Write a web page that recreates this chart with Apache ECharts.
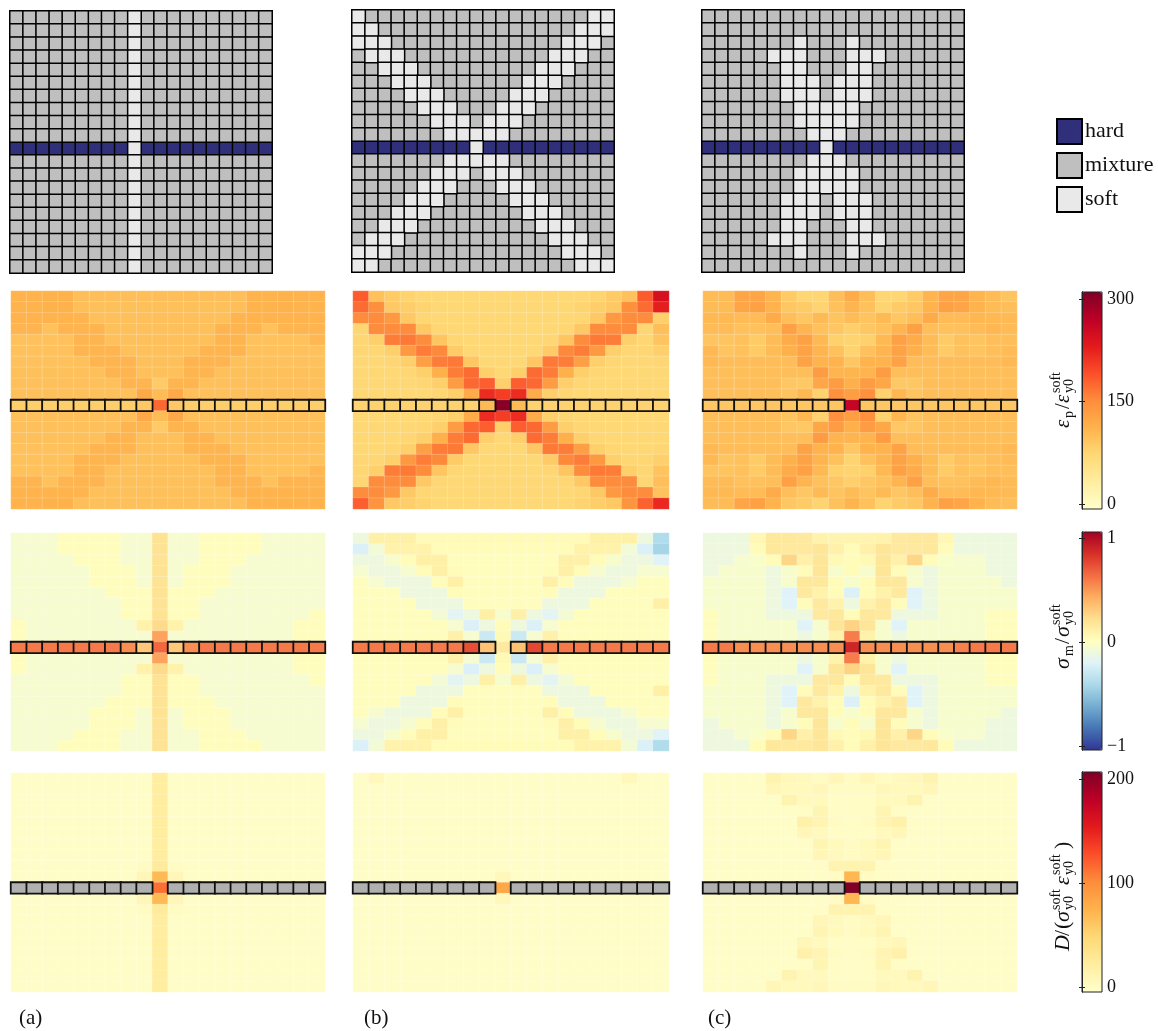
<!DOCTYPE html>
<html>
<head>
<meta charset="utf-8">
<script src="https://cdn.jsdelivr.net/npm/echarts@6/dist/echarts.min.js"></script>
<style>html,body{margin:0;background:#fff}#main{width:1158px;height:1031px}</style>
</head>
<body>
<div id="main"></div>
<script>
const columns = Array.from({ length: 20 }, (_, i) => i);
const rows = columns.slice();

// 0 mixture, 1 soft, 2 hard
const layoutA = ['00000000010000000000','00000000010000000000','00000000010000000000','00000000010000000000','00000000010000000000','00000000010000000000','00000000010000000000','00000000010000000000','00000000010000000000','00000000010000000000','22222222212222222222','00000000010000000000','00000000010000000000','00000000010000000000','00000000010000000000','00000000010000000000','00000000010000000000','00000000010000000000','00000000010000000000','00000000010000000000'];
const layoutB = ['10000000000000000011','11000000000000000111','11100000000000001110','01110000000000011100','00111000000000111000','00011100000001110000','00001110000011100000','00000111000111000000','00000011101110000000','00000001111100000000','22222222212222222222','00000001111100000000','00000011101110000000','00000111000111000000','00001110000011100000','00011100000001110000','00111000000000111000','01110000000000011100','11100000000000001110','11000000000000000111'];
const layoutC = ['00000000000000000000','00000000000000000000','00000001000100000000','00000111000111000000','00000011000110000000','00000011101110000000','00000011101110000000','00000001111100000000','00000001111100000000','00000000111000000000','22222222212222222222','00000000111000000000','00000001111100000000','00000001111100000000','00000011101110000000','00000011101110000000','00000011000110000000','00000111000111000000','00000001000100000000','00000000000000000000'];

const strainA = [
[112,112,113,113,100,100,100,100,100,100,100,100,100,100,100,112,112,113,112,112],
[112,112,113,113,100,99,99,99,99,99,99,99,99,99,100,112,112,113,112,112],
[112,112,112,112,110,99,99,99,99,99,99,99,99,99,110,112,112,112,112,112],
[110,110,98,110,110,110,99,99,99,99,99,99,99,110,110,110,98,110,110,110],
[98,98,98,98,110,110,99,99,99,99,99,99,99,110,110,98,98,98,98,108],
[98,98,98,98,110,110,110,99,99,99,99,99,110,110,110,98,98,98,98,98],
[98,98,98,98,99,110,110,110,99,99,99,110,110,110,99,98,98,98,98,98],
[99,99,99,99,99,99,110,110,99,99,99,110,110,99,99,99,99,99,99,99],
[99,99,99,99,99,99,99,110,110,88,110,110,99,99,99,99,99,99,99,99],
[99,99,99,99,99,99,99,99,122,103,122,99,99,99,99,99,99,99,99,99],
[86,86,86,86,86,86,86,86,90,172,90,86,86,86,86,86,86,86,86,86],
[99,99,99,99,99,99,99,99,122,103,122,99,99,99,99,99,99,99,99,99],
[99,99,99,99,99,99,99,110,110,88,110,110,99,99,99,99,99,99,99,99],
[99,99,99,99,99,99,110,110,99,99,99,110,110,99,99,99,99,99,99,99],
[98,98,98,98,99,110,110,110,99,99,99,110,110,110,99,98,98,98,98,98],
[98,98,98,98,110,110,110,99,99,99,99,99,110,110,110,98,98,98,98,98],
[98,98,98,98,110,110,99,99,99,99,99,99,99,110,110,98,98,98,98,108],
[110,110,98,110,110,110,99,99,99,99,99,99,99,110,110,110,98,110,110,110],
[112,112,112,112,110,99,99,99,99,99,99,99,99,99,110,112,112,112,112,112],
[112,112,113,113,100,99,99,99,99,99,99,99,99,99,100,112,112,113,112,112]];
const strainB = [
[180,98,88,80,76,76,76,76,76,76,76,76,76,76,76,80,88,98,180,238],
[170,148,90,86,80,76,76,76,76,76,76,76,76,76,80,86,90,148,170,222],
[150,150,138,90,78,76,76,76,76,76,76,76,76,76,78,90,138,150,150,84],
[78,150,150,150,90,78,76,76,76,76,76,76,76,78,90,150,150,150,78,100],
[78,84,160,162,150,94,78,76,76,76,76,76,78,94,150,162,160,84,78,95],
[78,78,84,138,160,152,88,76,76,76,76,76,88,152,160,138,84,78,78,85],
[76,76,78,84,132,160,162,92,76,76,76,92,162,160,132,84,78,76,76,78],
[76,76,76,78,84,115,160,170,85,76,85,170,160,115,84,78,76,76,76,76],
[76,76,76,76,78,84,135,172,178,84,178,172,135,84,78,76,76,76,76,76],
[76,76,76,76,76,78,84,120,212,200,212,120,84,78,76,76,76,76,76,76],
[82,82,82,82,82,82,82,82,105,295,105,82,82,82,82,82,82,82,82,82],
[76,76,76,76,76,78,84,120,212,200,212,120,84,78,76,76,76,76,76,76],
[76,76,76,76,78,84,135,172,178,84,178,172,135,84,78,76,76,76,76,76],
[76,76,76,78,84,115,160,170,85,76,85,170,160,115,84,78,76,76,76,76],
[76,76,78,84,132,160,162,92,76,76,76,92,162,160,132,84,78,76,76,78],
[78,78,84,138,160,152,88,76,76,76,76,76,88,152,160,138,84,78,78,85],
[78,84,160,162,150,94,78,76,76,76,76,76,78,94,150,162,160,84,78,95],
[78,150,150,150,90,78,76,76,76,76,76,76,76,78,90,150,150,150,78,100],
[150,150,138,90,78,76,76,76,76,76,76,76,76,76,78,90,138,150,150,96],
[178,142,90,86,80,76,76,76,76,76,76,76,76,76,80,86,90,142,176,215]];
const strainC = [
[103,103,125,125,110,88,78,78,100,120,100,78,78,88,110,125,125,110,103,95],
[103,103,125,130,112,92,88,80,98,110,98,80,88,92,112,130,125,112,103,100],
[106,106,104,104,120,100,92,105,95,103,95,105,92,100,120,104,104,108,106,105],
[104,104,98,98,100,130,110,98,92,85,92,98,110,130,100,98,98,104,108,104],
[95,95,98,88,103,120,130,106,83,80,83,106,130,120,103,88,98,95,100,100],
[106,95,98,88,103,115,128,110,98,80,98,110,128,115,103,88,98,95,100,104],
[106,102,102,102,102,102,128,112,112,92,112,112,128,102,102,102,102,102,102,106],
[100,100,100,100,100,100,100,135,110,110,110,135,100,100,100,100,100,100,100,100],
[100,100,100,100,100,92,90,124,135,115,135,124,90,92,100,100,100,100,100,100],
[100,100,100,100,100,95,108,82,146,133,146,82,108,95,100,100,100,100,100,100],
[92,92,92,92,92,92,92,92,94,255,94,92,92,92,92,92,92,92,92,92],
[100,100,100,100,100,95,108,82,146,133,146,82,108,95,100,100,100,100,100,100],
[100,100,100,100,100,92,90,124,135,115,135,124,90,92,100,100,100,100,100,100],
[100,100,100,100,100,100,100,135,110,110,110,135,100,100,100,100,100,100,100,100],
[106,102,102,102,102,102,128,112,112,92,112,112,128,102,102,102,102,102,102,106],
[106,95,98,88,103,115,128,110,98,80,98,110,128,115,103,88,98,95,100,104],
[95,95,98,88,103,120,130,106,83,80,83,106,130,120,103,88,98,95,100,100],
[104,104,98,98,100,130,110,98,92,85,92,98,110,130,100,98,98,104,108,104],
[106,106,104,104,120,100,92,105,95,103,95,105,92,100,120,104,104,108,106,105],
[103,103,125,130,112,92,88,80,98,110,98,80,88,92,112,130,125,112,103,100]];

// hydrostatic stress, in hundredths
const stressA = [
[-6,-6,-6,1,1,1,1,-6,-6,18,-6,-6,1,1,1,1,-6,-6,-6,-6],
[-6,-6,-6,1,1,1,1,-6,-6,18,-6,-6,1,1,1,1,-6,-6,-6,-6],
[-6,-6,-6,-6,1,1,1,-6,-6,18,-6,-6,1,1,1,-6,-6,-6,-6,-6],
[-6,-6,-6,-6,-6,1,1,1,-6,18,-6,1,1,1,-6,-6,-6,-6,-6,-6],
[-6,-6,-6,-6,-6,1,1,1,-6,18,-6,1,1,1,-6,-6,-6,-6,-6,-6],
[-6,-6,-6,-6,-6,-6,1,1,1,18,1,1,1,-6,-6,-6,-6,-6,-6,-6],
[-6,-6,-6,-6,-6,-6,-6,1,1,18,1,1,-6,-6,-6,-6,-6,-6,-6,-6],
[-6,-6,-6,-6,-6,-6,-6,1,1,18,1,1,-6,-6,-6,-6,-6,-6,-6,1],
[1,-6,-6,-6,-6,-6,-6,-6,8,22,8,-6,-6,-6,-6,-6,-6,-6,1,1],
[1,-6,-6,-6,-6,-6,-6,-6,-6,43,-6,-6,-6,-6,-6,-6,-6,-6,1,1],
[56,56,56,56,56,56,56,50,30,62,30,50,56,56,56,56,56,56,56,56],
[1,-6,-6,-6,-6,-6,-6,-6,-6,43,-6,-6,-6,-6,-6,-6,-6,-6,1,1],
[1,-6,-6,-6,-6,-6,-6,-6,8,22,8,-6,-6,-6,-6,-6,-6,-6,1,1],
[-6,-6,-6,-6,-6,-6,-6,1,1,18,1,1,-6,-6,-6,-6,-6,-6,-6,1],
[-6,-6,-6,-6,-6,-6,-6,1,1,18,1,1,-6,-6,-6,-6,-6,-6,-6,-6],
[-6,-6,-6,-6,-6,-6,1,1,1,18,1,1,1,-6,-6,-6,-6,-6,-6,-6],
[-6,-6,-6,-6,-6,1,1,1,-6,18,-6,1,1,1,-6,-6,-6,-6,-6,-6],
[-6,-6,-6,-6,-6,1,1,1,-6,18,-6,1,1,1,-6,-6,-6,-6,-6,-6],
[-6,-6,-6,-6,1,1,1,-6,-6,18,-6,-6,1,1,1,-6,-6,-6,-6,-6],
[-6,-6,-6,1,1,1,1,-6,-6,18,-6,-6,1,1,1,1,-6,-6,-6,-6]];
const stressB = [
[-11,10,10,10,3,3,3,3,3,3,3,3,3,3,3,10,10,10,-11,-38],
[-22,-8,8,8,8,2,2,2,2,2,2,2,2,2,8,8,8,-8,-22,-42],
[-11,-11,-5,2,10,10,1,1,1,1,1,1,1,10,10,2,-5,-11,-11,-20],
[-6,-11,-11,-6,2,10,2,1,1,1,1,1,2,10,2,-6,-11,-11,-6,-6],
[1,-6,-11,-11,-11,2,10,1,1,1,1,1,10,2,-11,-11,-11,-6,1,1],
[1,1,1,-11,-11,-11,2,1,1,1,1,1,2,-11,-11,-11,1,1,1,1],
[1,1,1,1,-11,-11,-11,1,1,1,1,1,-11,-11,-11,1,1,1,1,10],
[1,1,1,1,1,-8,-18,-11,10,-5,10,-11,-18,-8,1,1,1,1,1,1],
[1,1,1,1,1,1,-6,-22,-11,2,-11,-22,-6,1,1,1,1,1,1,1],
[1,1,1,1,1,1,9,-6,-28,4,-28,-6,9,1,1,1,1,1,1,1],
[56,56,56,56,56,56,56,70,32,14,32,72,56,56,56,56,56,56,56,56],
[1,1,1,1,1,1,9,-6,-28,4,-28,-6,9,1,1,1,1,1,1,1],
[1,1,1,1,1,1,-6,-22,-11,2,-11,-22,-6,1,1,1,1,1,1,1],
[1,1,1,1,1,-8,-18,-11,10,-5,10,-11,-18,-8,1,1,1,1,1,1],
[1,1,1,1,-11,-11,-11,1,1,1,1,1,-11,-11,-11,1,1,1,1,10],
[1,1,1,-11,-11,-11,2,1,1,1,1,1,2,-11,-11,-11,1,1,1,1],
[1,-6,-11,-11,-11,2,10,1,1,1,1,1,10,2,-11,-11,-11,-6,1,1],
[-6,-11,-11,-6,2,10,2,1,1,1,1,1,2,10,2,-6,-11,-11,-6,-6],
[-11,-11,-5,2,10,10,1,1,1,1,1,1,1,10,10,2,-5,-11,-11,-20],
[-22,-8,8,8,8,2,2,2,2,2,2,2,2,2,8,8,8,-8,-22,-38]];
const stressC = [
[-11,-11,-11,5,15,15,14,8,7,7,7,8,14,15,15,5,-11,-11,-11,-11],
[-11,-11,-11,2,15,14,14,16,9,2,9,16,14,14,15,2,-11,-11,-11,-11],
[-11,-11,-6,-4,2,24,9,16,4,2,4,16,9,24,2,-4,-6,-6,-11,-11],
[-11,-5,-5,-5,-11,-5,2,16,-5,2,-5,16,2,-5,-11,-5,-5,-5,-11,-11],
[-5,-5,-5,-5,-11,-5,15,15,2,-5,2,15,15,-5,-11,-5,-5,-5,-5,-11],
[-5,-5,-5,-5,-11,-20,14,8,2,-22,2,8,14,-20,-11,-5,-5,-5,-5,-5],
[-5,-5,-5,-5,-11,-20,2,14,8,-11,8,14,2,-20,-11,-5,-5,-5,-5,-5],
[1,-5,-5,-5,-11,-11,-11,14,15,2,15,14,-11,-11,-11,-5,-5,-5,1,1],
[1,-5,-5,-5,-5,-5,-20,-5,16,25,16,-5,-20,-5,-5,-5,-5,-5,1,1],
[1,-5,-5,-5,-5,-5,-11,-5,8,55,8,-5,-11,-5,-5,-5,-5,-5,1,1],
[56,56,50,50,50,50,50,50,50,84,50,50,50,50,50,50,54,56,56,56],
[1,-5,-5,-5,-5,-5,-11,-5,8,55,8,-5,-11,-5,-5,-5,-5,-5,1,1],
[1,-5,-5,-5,-5,-5,-20,-5,16,25,16,-5,-20,-5,-5,-5,-5,-5,1,1],
[1,-5,-5,-5,-11,-11,-11,14,15,2,15,14,-11,-11,-11,-5,-5,-5,1,1],
[-5,-5,-5,-5,-11,-20,2,14,8,-11,8,14,2,-20,-11,-5,-5,-5,-5,-5],
[-5,-5,-5,-5,-11,-20,14,8,2,-22,2,8,14,-20,-11,-5,-5,-5,-5,-5],
[-5,-5,-5,-5,-11,-5,15,15,2,-5,2,15,15,-5,-11,-5,-5,-5,-5,-11],
[-11,-5,-5,-5,-11,-5,2,16,-5,2,-5,16,2,-5,-11,-5,-5,-5,-11,-11],
[-11,-11,-6,-4,2,24,9,16,4,2,4,16,9,24,2,-4,-6,-6,-11,-11],
[-11,-11,-11,2,15,14,14,16,9,2,9,16,14,14,15,2,-11,-11,-11,-11]];

const damageA = [
[3,3,3,3,3,3,3,3,3,25,3,3,3,3,3,3,3,3,3,3],
[3,3,3,3,3,3,3,3,3,25,3,3,3,3,3,3,3,3,3,3],
[3,3,3,3,3,3,3,3,3,25,3,3,3,3,3,3,3,3,3,3],
[3,3,3,3,3,3,3,3,3,25,3,3,3,3,3,3,3,3,3,3],
[3,3,3,3,3,3,3,3,3,25,3,3,3,3,3,3,3,3,3,3],
[3,3,3,3,3,3,3,3,3,25,3,3,3,3,3,3,3,3,3,3],
[3,3,3,3,3,3,3,3,3,25,3,3,3,3,3,3,3,3,3,3],
[3,3,3,3,3,3,3,3,3,25,3,3,3,3,3,3,3,3,3,3],
[3,3,3,3,3,3,3,3,5,28,5,3,3,3,3,3,3,3,3,3],
[3,3,3,3,3,3,3,3,12,70,12,3,3,3,3,3,3,3,3,3],
[null,null,null,null,null,null,null,null,null,112,null,null,null,null,null,null,null,null,null,null],
[3,3,3,3,3,3,3,3,12,70,12,3,3,3,3,3,3,3,3,3],
[3,3,3,3,3,3,3,3,5,28,5,3,3,3,3,3,3,3,3,3],
[3,3,3,3,3,3,3,3,3,25,3,3,3,3,3,3,3,3,3,3],
[3,3,3,3,3,3,3,3,3,25,3,3,3,3,3,3,3,3,3,3],
[3,3,3,3,3,3,3,3,3,25,3,3,3,3,3,3,3,3,3,3],
[3,3,3,3,3,3,3,3,3,25,3,3,3,3,3,3,3,3,3,3],
[3,3,3,3,3,3,3,3,3,25,3,3,3,3,3,3,3,3,3,3],
[3,3,3,3,3,3,3,3,3,25,3,3,3,3,3,3,3,3,3,3],
[3,3,3,3,3,3,3,3,3,25,3,3,3,3,3,3,3,3,3,3]];
const damageB = [
[3,10,3,3,3,3,3,3,3,3,3,3,3,3,3,3,3,10,3,3],
[3,3,3,3,3,3,3,3,3,3,3,3,3,3,3,3,3,3,3,3],
[3,3,3,3,3,3,3,3,3,3,3,3,3,3,3,3,3,3,3,3],
[3,3,3,3,3,3,3,3,3,3,3,3,3,3,3,3,3,3,3,3],
[3,3,3,3,3,3,3,3,3,3,3,3,3,3,3,3,3,3,3,3],
[3,3,3,3,3,3,3,3,3,3,3,3,3,3,3,3,3,3,3,3],
[3,3,3,3,3,3,3,3,3,3,3,3,3,3,3,3,3,3,3,3],
[3,3,3,3,3,3,3,3,3,3,3,3,3,3,3,3,3,3,3,3],
[3,3,3,3,3,3,3,3,3,3,3,3,3,3,3,3,3,3,3,3],
[3,3,3,3,3,3,3,3,3,10,3,3,3,3,3,3,3,3,3,3],
[null,null,null,null,null,null,null,null,null,82,null,null,null,null,null,null,null,null,null,null],
[3,3,3,3,3,3,3,3,3,10,3,3,3,3,3,3,3,3,3,3],
[3,3,3,3,3,3,3,3,3,3,3,3,3,3,3,3,3,3,3,3],
[3,3,3,3,3,3,3,3,3,3,3,3,3,3,3,3,3,3,3,3],
[3,3,3,3,3,3,3,3,3,3,3,3,3,3,3,3,3,3,3,3],
[3,3,3,3,3,3,3,3,3,3,3,3,3,3,3,3,3,3,3,3],
[3,3,3,3,3,3,3,3,3,3,3,3,3,3,3,3,3,3,3,3],
[3,3,3,3,3,3,3,3,3,3,3,3,3,3,3,3,3,3,3,3],
[3,3,3,3,3,3,3,3,3,3,3,3,3,3,3,3,3,3,3,3],
[3,3,3,3,3,3,3,3,3,3,3,3,3,3,3,3,3,3,3,3]];
const damageC = [
[3,3,3,3,16,10,8,6,12,6,12,6,8,10,16,3,3,3,3,3],
[3,3,3,3,12,9,9,11,5,5,5,11,9,9,12,3,3,3,3,3],
[3,3,3,3,3,16,8,9,4,4,4,9,8,16,3,3,3,3,3,3],
[3,3,3,3,3,3,4,14,4,4,4,14,4,3,3,3,3,3,3,3],
[3,3,3,3,3,3,20,15,5,4,5,15,20,3,3,3,3,3,3,3],
[3,3,3,3,3,3,12,8,4,4,4,8,12,3,3,3,3,3,3,3],
[3,3,3,3,3,3,3,14,9,5,9,14,3,3,3,3,3,3,3,3],
[3,3,3,3,3,3,3,12,8,5,8,12,3,3,3,3,3,3,3,3],
[3,3,3,3,3,3,3,4,16,17,16,4,3,3,3,3,3,3,3,3],
[3,3,3,3,3,3,3,3,5,72,5,3,3,3,3,3,3,3,3,3],
[null,null,null,null,null,null,null,null,null,200,null,null,null,null,null,null,null,null,null,null],
[3,3,3,3,3,3,3,3,5,72,5,3,3,3,3,3,3,3,3,3],
[3,3,3,3,3,3,3,4,16,17,16,4,3,3,3,3,3,3,3,3],
[3,3,3,3,3,3,3,12,8,5,8,12,3,3,3,3,3,3,3,3],
[3,3,3,3,3,3,3,14,9,5,9,14,3,3,3,3,3,3,3,3],
[3,3,3,3,3,3,12,8,4,4,4,8,12,3,3,3,3,3,3,3],
[3,3,3,3,3,3,20,15,5,4,5,15,20,3,3,3,3,3,3,3],
[3,3,3,3,3,3,4,14,4,4,4,14,4,3,3,3,3,3,3,3],
[3,3,3,3,3,16,8,9,4,4,4,9,8,16,3,3,3,3,3,3],
[3,3,3,3,12,9,9,11,5,5,5,11,9,9,12,3,3,3,3,3]];

const phaseNames = ['mixture', 'soft', 'hard'];
const phaseColors = ['#bfbfbf', '#e9e9e9', '#2f2f7a'];
const panelLabels = ['(a)', '(b)', '(c)'];
const strainTicks = [0, 150, 300];
const stressTicks = [-100, 0, 100];
const damageTicks = [0, 100, 200];

const ylorrd = ['#ffffcc', '#ffeda0', '#fed976', '#feb24c', '#fd8d3c', '#fc4e2a', '#e31a1c', '#bd0026', '#800026'];
const rdylbu = ['#313695', '#4575b4', '#74add1', '#abd9e9', '#e0f3f8', '#ffffbf', '#fee090', '#fdae61', '#f46d43', '#d73027', '#a50026'];

const serif = '"Liberation Serif", serif';
const grid = [], xAxis = [], yAxis = [], series = [];

function addGrid(rect, extra) {
  grid.push(Object.assign({}, rect, extra));
  return grid.length - 1;
}

function addCellAxes(i) {
  xAxis.push({ gridIndex: i, type: 'category', data: columns, show: false });
  yAxis.push({ gridIndex: i, type: 'category', data: rows, inverse: true, show: false });
  return [xAxis.length - 1, yAxis.length - 1];
}

// top row: material layouts
[[10, 11, layoutA], [352, 10, layoutB], [702, 10, layoutC]].forEach(([left, top, layout]) => {
  const [xi, yi] = addCellAxes(addGrid({ left, top, width: 262, height: 262 }));
  [2, 0, 1].forEach(phase => {
    const cells = [];
    layout.forEach((line, r) => {
      for (let c = 0; c < line.length; c++) {
        if (+line[c] === phase) cells.push([c, r, phase]);
      }
    });
    series.push({
      type: 'heatmap',
      name: phaseNames[phase],
      xAxisIndex: xi,
      yAxisIndex: yi,
      data: cells,
      itemStyle: { color: phaseColors[phase], borderColor: '#000', borderWidth: 1.5 }
    });
  });
});

// field panels
const panelX = [[11, 314], [353, 316], [703, 314]];
const fieldRows = [
  { top: 291, height: 218, fields: [strainA, strainB, strainC], grey: false },
  { top: 533, height: 218, fields: [stressA, stressB, stressC], grey: false },
  { top: 773, height: 219, fields: [damageA, damageB, damageC], grey: true }
];
const layouts = [layoutA, layoutB, layoutC];
const mapSeries = [[], [], []];

fieldRows.forEach((row, rowIndex) => {
  row.fields.forEach((field, p) => {
    const [xi, yi] = addCellAxes(addGrid({ left: panelX[p][0], top: row.top, width: panelX[p][1], height: row.height }));
    const open = [], hard = [];
    field.forEach((line, r) => {
      line.forEach((v, c) => {
        if (layouts[p][r][c] === '2') hard.push([c, r, row.grey ? 1 : v]);
        else open.push([c, r, v]);
      });
    });
    mapSeries[rowIndex].push(series.length);
    series.push({
      type: 'heatmap',
      xAxisIndex: xi,
      yAxisIndex: yi,
      data: open,
      itemStyle: { borderColor: 'rgba(255,255,255,0.18)', borderWidth: 1 }
    });
    if (!row.grey) mapSeries[rowIndex].push(series.length);
    series.push({
      type: 'heatmap',
      xAxisIndex: xi,
      yAxisIndex: yi,
      z: 3,
      data: hard,
      itemStyle: { color: '#b0b0b0', borderColor: '#111', borderWidth: 1.8 }
    });
  });
});

// colour bars: the ramp is the visualMap, the scale is an axis laid over it
const barLeft = 1082, barWidth = 20;
const bars = [
  { top: 292, height: 217, min: -7, max: 310, ticks: strainTicks, vmin: 0, vmax: 300, colors: ylorrd },
  { top: 532, height: 218, min: -104, max: 106, ticks: stressTicks, vmin: -100, vmax: 100, colors: rdylbu },
  { top: 772, height: 220, min: -5, max: 207, ticks: damageTicks, vmin: 0, vmax: 200, colors: ylorrd }
];

bars.forEach((bar, b) => {
  const i = addGrid({ left: barLeft, top: bar.top, width: barWidth, height: bar.height },
    { show: true, borderColor: '#222', borderWidth: 1, backgroundColor: 'transparent', z: 10 });
  xAxis.push({ gridIndex: i, type: 'value', show: false, min: 0, max: 1 });
  const labelFor = b === 1
    ? v => (v === -100 ? '\u22121' : v === 100 ? '1' : '0')
    : v => String(v);
  yAxis.push({
    gridIndex: i, type: 'value', position: 'right', min: bar.min, max: bar.max, z: 10,
    splitLine: { show: false },
    axisLine: { show: true, lineStyle: { color: '#222' } },
    axisTick: { show: true, inside: true, length: 3, customValues: bar.ticks, lineStyle: { color: '#222' } },
    axisLabel: { customValues: bar.ticks, formatter: labelFor, color: '#111', fontFamily: serif, fontSize: 18, margin: 5 }
  });
  yAxis.push({
    gridIndex: i, type: 'value', position: 'left', min: bar.min, max: bar.max, z: 10,
    splitLine: { show: false },
    axisLine: { show: true, lineStyle: { color: '#222' } },
    axisTick: { show: true, inside: true, length: 3, customValues: bar.ticks, lineStyle: { color: '#222' } },
    axisLabel: { show: false }
  });
});

const visualMap = bars.map((bar, b) => ({
  type: 'continuous',
  min: bar.vmin,
  max: bar.vmax,
  seriesIndex: mapSeries[b],
  left: barLeft,
  top: bar.top,
  itemWidth: barWidth,
  itemHeight: bar.height,
  padding: 0,
  text: null,
  calculable: false,
  hoverLink: false,
  inRange: { color: bar.colors }
}));

// rotated axis titles, read bottom to top
function piece(x, y, text, size, italic) {
  return {
    type: 'text', x, y, rotation: Math.PI / 2, silent: true,
    style: { text, fill: '#111', textAlign: 'left', textVerticalAlign: 'middle',
      font: (italic ? 'italic ' : '') + size + 'px ' + serif }
  };
}
const graphic = [
  piece(1063, 428, '\u03b5', 21, true), piece(1069, 418, 'p', 14, false),
  piece(1063, 409, '/', 21, false), piece(1063, 403, '\u03b5', 21, true),
  piece(1056, 393, 'soft', 14, false), piece(1069, 393, 'y0', 14, false),

  piece(1063, 669, '\u03c3', 22, true), piece(1069, 656, 'm', 14, false),
  piece(1063, 644, '/', 22, false), piece(1063, 637, '\u03c3', 22, true),
  piece(1056, 625, 'soft', 14, false), piece(1069, 625, 'y0', 14, false),

  piece(1063, 951, 'D', 22, true), piece(1063, 936, '/', 22, false),
  piece(1063, 929, '(', 22, false), piece(1063, 922, '\u03c3', 22, true),
  piece(1056, 910, 'soft', 14, false), piece(1069, 910, 'y0', 14, false),
  piece(1063, 885, '\u03b5', 22, true),
  piece(1056, 875, 'soft', 14, false), piece(1069, 875, 'y0', 14, false),
  piece(1063, 849, ')', 22, false)
];
[19, 364, 708].forEach((x, i) => {
  graphic.push({ type: 'text', x, y: 1018, silent: true,
    style: { text: panelLabels[i], fill: '#111', textVerticalAlign: 'middle', font: '21px ' + serif } });
});

const chart = echarts.init(document.getElementById('main'));
chart.setOption({
  animation: false,
  tooltip: { show: false },
  legend: {
    data: ['hard', 'mixture', 'soft'],
    orient: 'vertical',
    left: 1056,
    top: 118,
    padding: 0,
    icon: 'rect',
    itemWidth: 25,
    itemHeight: 25,
    itemGap: 7,
    selectedMode: false,
    textStyle: { fontFamily: serif, fontSize: 22, color: '#111', padding: [0, 0, 0, -2] }
  },
  grid,
  xAxis,
  yAxis,
  visualMap,
  series,
  graphic
});
</script>
</body>
</html>
